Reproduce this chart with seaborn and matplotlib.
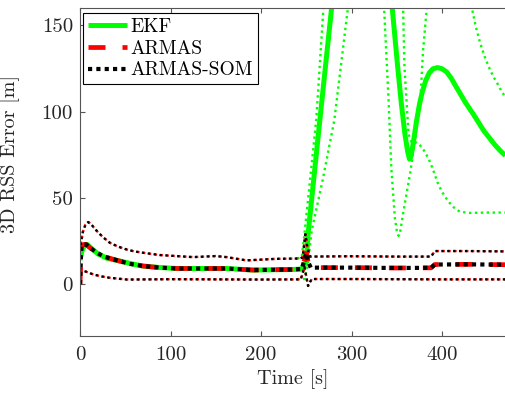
import numpy as np
import pandas as pd
import matplotlib
matplotlib.use("Agg")
import matplotlib.pyplot as plt
import seaborn as sns

# ---------------- data ----------------
# EKF mean error
ekf_t = [0, 2, 5, 8, 12, 20, 30, 44, 60, 70, 85, 107, 130, 162, 191, 215, 235, 245,
         250, 252, 265, 278, 290, 320, 340, 345, 351, 355, 359, 362, 364, 365, 366, 368,
         370, 372, 375, 378, 382, 386, 390, 395, 400, 405, 410, 416, 420, 425, 430, 434,
         440, 446, 452, 458, 464, 470]
ekf_v = [14, 19, 22.5, 23, 21, 17.5, 15, 13.4, 11.5, 10.5, 9.8, 9.1, 9.1, 9.1, 8.2, 8.4, 8.5, 8.8,
         13, 29, 95, 160, 220, 260, 200, 160, 126, 105, 87, 77, 72.5, 73, 75, 81,
         88, 95, 104, 111, 118, 122.5, 124.8, 125.5, 124.8, 123, 119.5, 114, 110.5, 106, 102, 99,
         94, 89, 85, 81, 77.5, 74.5]

# EKF bound 1 (green dotted)
ekf_b1_t = [240, 245, 248, 261, 269, 280, 310, 330, 336, 341, 344, 348, 350, 352, 354, 357,
            361, 365, 370, 376, 379, 383, 400, 420, 433, 437, 442, 447, 452, 457, 462, 466, 470]
ekf_b1_v = [15, 15.5, 29, 95, 160, 210, 250, 200, 160, 106, 67, 38, 31, 28, 31, 41,
            53, 65, 83, 106, 135, 159, 220, 190, 160, 150, 140, 132, 125.5, 120, 115.5, 111.5, 108.5]

# EKF bound 2 (green dotted)
ekf_b2_t = [240, 248, 252, 256, 268, 281, 296, 310, 340, 357, 358.5, 363, 366.5, 370, 375,
            380, 385, 390, 395, 400, 405, 410, 415, 420, 430, 450, 470]
ekf_b2_v = [3, 3, 12, 31, 60, 95, 160, 200, 230, 160, 126, 87, 82, 82.5, 81,
            77.5, 73, 66.5, 59, 53.5, 49.5, 46, 43.5, 42, 41.3, 41.5, 41.5]

# ARMAS / ARMAS-SOM mean error
armas_t = [0, 1.5, 4, 7, 10, 14, 18, 22, 27, 33, 44, 55, 70, 88, 107, 130, 162, 191, 215, 235, 245,
           248, 250, 252, 255, 300, 350, 388, 392, 430, 470]
armas_v = [0, 22, 23, 23, 21.5, 20, 18.5, 17.3, 16, 15, 13.4, 11.8, 10.5, 9.6, 9.1, 9.1, 9.1, 8.2,
           8.4, 8.5, 8.8, 14, 18, 13, 9.6, 9.6, 9.4, 9.5, 11.4, 11.5, 11.3]

# ARMAS / ARMAS-SOM upper bound
armas_up_t = [0, 3, 6, 9, 12, 15, 20, 26, 33, 42, 51, 60, 70, 88, 125, 150, 162, 184, 217, 243, 246,
              249, 251, 254, 300, 350, 388, 392, 430, 470]
armas_up_v = [20, 30, 34.5, 36, 35, 33, 30, 27, 24, 21.8, 20.2, 19, 18.2, 16.9, 15.7, 16.3, 15.7,
              13.8, 14.7, 14.9, 15.5, 29, 22, 16, 16.2, 16, 16, 19.2, 19.2, 19]

# ARMAS / ARMAS-SOM lower bound
armas_lo_t = [0, 8, 15, 24, 33, 52, 100, 150, 200, 244, 248, 252, 256, 300, 350, 400, 470]
armas_lo_v = [8.5, 7, 5.6, 4.5, 3.7, 2.7, 2.9, 2.8, 2.7, 2.8, 10, -1, 3, 3, 2.9, 2.8, 2.8]

x_ticks = [0, 100, 200, 300, 400]
y_ticks = [0, 50, 100, 150]

# ---------------- style ----------------
sns.set_theme(style="white")
plt.rcParams["font.family"] = ["cmr10", "DejaVu Serif"]
plt.rcParams["axes.formatter.use_mathtext"] = True
plt.rcParams["axes.unicode_minus"] = False

fig = plt.figure(figsize=(5.05, 3.99), dpi=100)
ax = fig.add_axes([80 / 505, 63 / 399, 425 / 505, 328 / 399])

green = "#00ff00"
red = "#ff0000"
black = "#000000"

dot_thin = (0, (1, 1.5))
dot_thick = (0, (1, 1.0))
dash_thick = (0, (3.6, 3.6))

def draw(t, v, color, lw, ls, label=None):
    df = pd.DataFrame({"t": t, "v": v})
    sns.lineplot(data=df, x="t", y="v", ax=ax, color=color, linewidth=lw,
                 linestyle=ls, estimator=None, sort=False,
                 label=label if label else "_nolegend_", legend=False,
                 dash_capstyle="butt", solid_capstyle="butt")
    return ax.get_lines()[-1]

# EKF
draw(ekf_b1_t, ekf_b1_v, green, 1.7, dot_thin)
draw(ekf_b2_t, ekf_b2_v, green, 1.7, dot_thin)
h_ekf = draw(ekf_t, ekf_v, green, 3.6, "-", "EKF")
# ARMAS
draw(armas_up_t, armas_up_v, red, 1.7, dot_thin)
draw(armas_lo_t, armas_lo_v, red, 1.7, dot_thin)
h_armas = draw(armas_t, armas_v, red, 3.4, dash_thick, "ARMAS")
# ARMAS-SOM
draw(armas_up_t, armas_up_v, black, 1.7, (0.5, (1, 1.5)))
draw(armas_lo_t, armas_lo_v, black, 1.7, (0.5, (1, 1.5)))
h_som = draw(armas_t, armas_v, black, 3.0, dot_thick, "ARMAS-SOM")

ax.set_xlim(0, 469.6)
ax.set_ylim(-30, 160)
ax.set_xticks(x_ticks)
ax.set_yticks(y_ticks)
ax.set_xticklabels([str(v) for v in x_ticks])
ax.set_yticklabels([str(v) for v in y_ticks])

axcol = "#262626"
for s in ["left", "bottom", "top"]:
    ax.spines[s].set_visible(True)
    ax.spines[s].set_color("#555555")
    ax.spines[s].set_linewidth(0.8)
ax.spines["right"].set_visible(False)
ax.tick_params(axis="both", which="both", direction="in", length=3.5, width=0.8,
               color="#555555", labelsize=15, labelcolor=axcol)
ax.tick_params(axis="x", top=True, bottom=True, pad=7)
ax.tick_params(axis="y", left=True, right=False, pad=5)

ax.set_xlabel("Time [s]", fontsize=14.5, color=axcol, labelpad=4)
ax.set_ylabel("3D RSS Error [m]", fontsize=14.5, color=axcol)
ax.yaxis.set_label_coords(-0.141, 0.555)

leg = ax.legend(handles=[h_ekf, h_armas, h_som], labels=["EKF", "ARMAS", "ARMAS-SOM"],
                loc="upper left", bbox_to_anchor=(3 / 425, 1 - 5 / 328),
                fontsize=14, frameon=True, fancybox=False, shadow=False,
                borderpad=0.25, labelspacing=0.2, handlelength=2.0,
                handletextpad=0.2, borderaxespad=0.0)
leg.get_frame().set_edgecolor("#000000")
leg.get_frame().set_linewidth(0.8)
leg.get_frame().set_alpha(1.0)
for txt in leg.get_texts():
    txt.set_color("#000000")

fig.savefig("out.png", dpi=100)
